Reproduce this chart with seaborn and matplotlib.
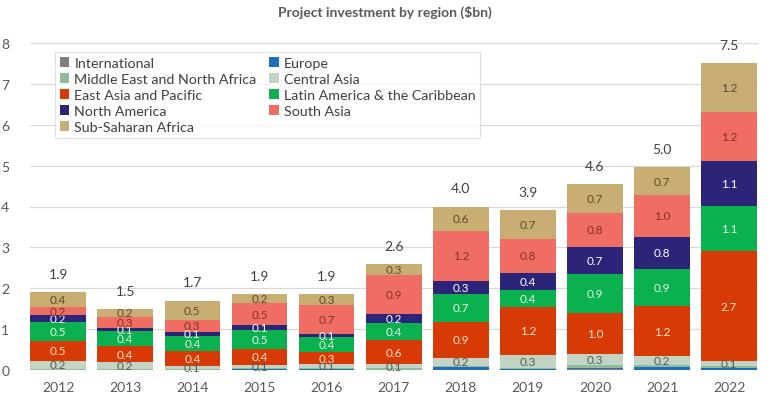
import numpy as np
import pandas as pd
import matplotlib
matplotlib.use("Agg")
import matplotlib.pyplot as plt
import seaborn as sns
from matplotlib.patches import Patch

years = [2012, 2013, 2014, 2015, 2016, 2017, 2018, 2019, 2020, 2021, 2022]

# bottom-to-top stacking order
international = [0.00, 0.00, 0.00, 0.00, 0.00, 0.00, 0.00, 0.00, 0.02, 0.00, 0.00]
europe        = [0.01, 0.00, 0.01, 0.02, 0.03, 0.01, 0.08, 0.03, 0.04, 0.08, 0.06]
mena          = [0.02, 0.02, 0.02, 0.03, 0.02, 0.03, 0.02, 0.02, 0.06, 0.04, 0.05]
central_asia  = [0.20, 0.18, 0.07, 0.08, 0.10, 0.10, 0.20, 0.32, 0.26, 0.22, 0.10]
east_asia     = [0.48, 0.38, 0.36, 0.38, 0.28, 0.60, 0.88, 1.18, 1.02, 1.22, 2.70]
latin_america = [0.46, 0.38, 0.38, 0.48, 0.38, 0.42, 0.68, 0.40, 0.94, 0.92, 1.10]
north_america = [0.17, 0.07, 0.10, 0.10, 0.06, 0.22, 0.32, 0.42, 0.68, 0.78, 1.10]
south_asia    = [0.20, 0.26, 0.28, 0.54, 0.72, 0.94, 1.22, 0.84, 0.82, 1.02, 1.20]
ssa           = [0.36, 0.21, 0.48, 0.24, 0.28, 0.28, 0.60, 0.70, 0.72, 0.68, 1.20]

regions = ["International", "Europe", "Middle East and North Africa", "Central Asia",
           "East Asia and Pacific", "Latin America & the Caribbean", "North America",
           "South Asia", "Sub-Saharan Africa"]
series = [international, europe, mena, central_asia, east_asia, latin_america,
          north_america, south_asia, ssa]
colors = ["#7f7f7f", "#1f6fc0", "#8fbc9b", "#c3d3c4", "#d83a06", "#0bb04f",
          "#2b2479", "#ef6d62", "#c8ae72"]
label_colors = [None, None, None, "#595959", "#fbe3c8", "#e3f5e6", "#ffffff",
                "#8a2e24", "#5b4b28"]

df = pd.DataFrame([
    {"year": y, "region": r, "value": v}
    for r, s in zip(regions, series) for y, v in zip(years, s)
])

sns.set_theme(style="white")
plt.rcParams["font.family"] = ["Lato", "DejaVu Sans"]

fig = plt.figure(figsize=(7.7, 4.1), dpi=100)
ax = fig.add_axes([30 / 770, 1 - 371 / 410, (758 - 30) / 770, (371 - 44) / 410])

palette = dict(zip(regions, colors))
sns.histplot(data=df, x="year", weights="value", hue="region",
             hue_order=regions[::-1], multiple="stack", discrete=True,
             shrink=0.83, palette=palette, alpha=1, linewidth=0,
             legend=False, ax=ax)

# segment labels
cum = np.zeros(len(years))
for i, s in enumerate(series):
    s = np.array(s)
    if label_colors[i] is not None:
        for x, b, v in zip(years, cum, s):
            ax.text(x, b + v / 2, f"{v:.1f}", ha="center", va="center",
                    fontsize=8.5, color=label_colors[i])
    cum = cum + s

# totals
for x, t in zip(years, cum):
    ax.annotate(f"{t:.1f}", (x, t), xytext=(0, 13), textcoords="offset points",
                ha="center", va="center", fontsize=10, color="#404040")

ax.set_ylim(0, 8)
ax.set_xlim(years[0] - 0.42, years[-1] + 0.43)
ax.set_yticks(range(0, 9))
ax.set_xticks(years)
ax.set_xticklabels([str(y) for y in years])
ax.yaxis.grid(True, color="#d9d9d9", linewidth=0.9)
ax.set_axisbelow(True)
for sp in ax.spines.values():
    sp.set_visible(False)
ax.tick_params(axis="y", length=0, pad=15, labelsize=10, labelcolor="#595959")
ax.tick_params(axis="x", length=0, pad=8, labelsize=10, labelcolor="#595959")
ax.set_xlabel("")
ax.set_ylabel("")

fig.text(0.5, 1 - 12 / 410, "Project investment by region ($bn)", ha="center",
         va="center", fontsize=10, fontweight="bold", color="#595959")

# legend: row-major order in 2 columns
col1 = [0, 2, 4, 6, 8]
col2 = [1, 3, 5, 7]
order = col1 + col2
handles = [Patch(facecolor=colors[i], edgecolor="none") for i in order]
labels = [regions[i] for i in order]
leg = fig.legend(handles, labels, ncol=2, loc="upper left",
                 bbox_to_anchor=(55 / 770, 1 - 53 / 410), borderaxespad=0,
                 frameon=True, fancybox=False, fontsize=10.3, labelspacing=0.28,
                 handlelength=0.65, handleheight=0.65, handletextpad=0.35,
                 columnspacing=0.9, borderpad=0.35, labelcolor="#404040")
leg.get_frame().set_edgecolor("#d9d9d9")
leg.get_frame().set_linewidth(0.8)

fig.savefig("out.png", dpi=100, facecolor="white")
